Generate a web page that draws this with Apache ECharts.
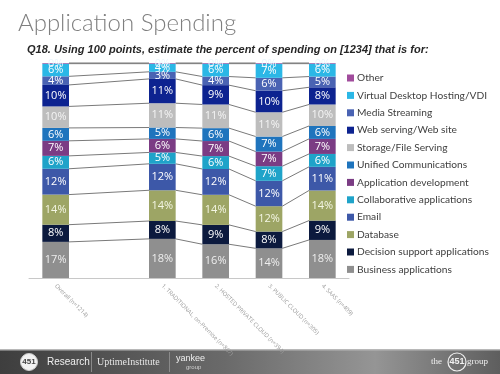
<!DOCTYPE html>
<html>
<head>
<meta charset="utf-8">
<script src="https://cdn.jsdelivr.net/npm/echarts@6/dist/echarts.min.js"></script>
<style>
html,body{margin:0;padding:0;background:#fff;}
#chart{width:500px;height:374px;}
</style>
</head>
<body>
<div id="chart"></div>
<script>
// Categories (a blank slot separates Overall from the segments)
const categories = ['Overall (n=1214)', '', '1. TRADITIONAL, on-Premise (n=867)', '2. HOSTED PRIVATE CLOUD (n=394)', '3. PUBLIC CLOUD (n=305)', '4. SAAS (n=409)'];
const barSlots = [0, 2, 3, 4, 5];

// Series values (per bar: Overall, 1, 2, 3, 4), bottom to top
const businessApps    = [16.8, 18.2, 15.7, 13.8, 17.7];
const decisionSupport = [8, 8.3, 9, 7.8, 9];
const database        = [14, 14.3, 14, 11.8, 14];
const email           = [12, 12.3, 12, 11.8, 11];
const collaborative   = [6, 5.3, 6, 6.8, 6];
const appDev          = [7, 6.3, 7, 6.8, 7];
const unifiedComms    = [6, 5.3, 6, 7, 6];
const storage         = [10, 11.3, 11, 11.3, 10];
const webServing      = [10, 11.3, 9, 10, 8];
const mediaStreaming  = [4, 3.3, 4, 6, 5];
const vdi             = [5.9, 3.8, 6, 6.6, 6];
const other           = [0.3, 0.3, 0.3, 0.3, 0.3];

const seriesDefs = [
  {name: 'Business applications', data: businessApps, color: '#8f8f8f', label: '#eeeeee'},
  {name: 'Decision support applications', data: decisionSupport, color: '#0c1a3e', label: '#ffffff'},
  {name: 'Database', data: database, color: '#9da565', label: '#f4f6e4'},
  {name: 'Email', data: email, color: '#3d58a8', label: '#ffffff'},
  {name: 'Collaborative applications', data: collaborative, color: '#1fa3c9', label: '#ffffff'},
  {name: 'Application development', data: appDev, color: '#7b3c84', label: '#ffffff'},
  {name: 'Unified Communications', data: unifiedComms, color: '#1f74bd', label: '#ffffff'},
  {name: 'Storage/File Serving', data: storage, color: '#bdbdbd', label: '#f4f4f4'},
  {name: 'Web serving/Web site', data: webServing, color: '#0d2390', label: '#ffffff'},
  {name: 'Media Streaming', data: mediaStreaming, color: '#4a63b3', label: '#ffffff'},
  {name: 'Virtual Desktop Hosting/VDI', data: vdi, color: '#2bb7e6', label: '#ffffff'},
  {name: 'Other', data: other, color: '#a14c9c', label: '#eaf6fc'}
];

function slotData(arr) {
  const out = categories.map(() => null);
  barSlots.forEach((s, i) => { out[s] = arr[i]; });
  return out;
}

const barSeries = seriesDefs.map((d, idx) => {
  const isTop = idx === seriesDefs.length - 1;
  return {
    name: d.name,
    type: 'bar',
    stack: 'total',
    barWidth: '50%',
    data: slotData(d.data),
    itemStyle: {color: d.color},
    labelLayout: {hideOverlap: false},
    label: {
      show: true,
      position: isTop ? 'top' : 'inside',
      distance: isTop ? -6 : 5,
      color: d.label,
      fontFamily: 'Open Sans',
      fontSize: 11,
      formatter: p => Math.round(p.value) + '%'
    }
  };
});

// Series lines connecting cumulative boundaries of adjacent bars
const lineData = [];
for (let k = 0; k < seriesDefs.length; k++) {
  for (let b = 0; b < barSlots.length - 1; b++) {
    let c1 = 0, c2 = 0;
    for (let j = 0; j <= k; j++) { c1 += seriesDefs[j].data[b]; c2 += seriesDefs[j].data[b + 1]; }
    lineData.push([barSlots[b], c1, barSlots[b + 1], c2]);
  }
}

const linesSeries = {
  type: 'custom',
  name: 'serieslines',
  silent: true,
  z: 1,
  encode: {x: [0, 2], y: [1, 3]},
  data: lineData,
  renderItem: function (params, api) {
    const p1 = api.coord([api.value(0), api.value(1)]);
    const p2 = api.coord([api.value(2), api.value(3)]);
    const half = api.size([1, 0])[0] * 0.25;
    return {
      type: 'line',
      shape: {x1: p1[0] + half, y1: p1[1], x2: p2[0] - half, y2: p2[1]},
      style: {stroke: '#7a7a7a', lineWidth: 1}
    };
  }
};

const chart = echarts.init(document.getElementById('chart'), null, {renderer: 'canvas'});
chart.setOption({
  animation: false,
  backgroundColor: '#ffffff',
  textStyle: {fontFamily: 'Open Sans'},
  title: [
    {text: 'Application Spending', left: 13, top: 6,
     textStyle: {fontFamily: 'Lato', fontWeight: 300, fontSize: 24, color: '#7f7f7f'}},
    {text: 'Q18. Using 100 points, estimate the percent of spending on [1234] that is for:', left: 22, top: 39,
     textStyle: {fontFamily: 'Liberation Sans', fontWeight: 'bold', fontStyle: 'italic', fontSize: 11, color: '#262626'}}
  ],
  legend: {
    orient: 'vertical',
    left: 342,
    top: 67,
    itemWidth: 7,
    itemHeight: 7,
    itemGap: 5.4,
    icon: 'rect',
    data: seriesDefs.map(d => d.name).reverse(),
    textStyle: {fontFamily: 'Lato', fontSize: 10.2, color: '#404040', lineHeight: 12, padding: [0, 0, 0, -2]}
  },
  grid: {left: 29, right: 151, top: 63, bottom: 96, containLabel: false},
  xAxis: {
    type: 'category',
    data: categories,
    axisLine: {show: true, lineStyle: {color: '#c8c8c8'}},
    axisTick: {show: false},
    axisLabel: {interval: 0, rotate: -45, fontSize: 5.8, color: '#9a9a9a', margin: 7}
  },
  yAxis: {
    type: 'value', min: 0, max: 100, show: false,
    splitLine: {show: false}
  },
  series: barSeries.concat([linesSeries]),
  graphic: [
    {type: 'rect', shape: {x: 0, y: 349, width: 500, height: 25}, silent: true,
     style: {fill: new echarts.graphic.LinearGradient(0, 0, 1, 0, [
       {offset: 0, color: '#3e3e3e'}, {offset: 0.45, color: '#6a6a6a'},
       {offset: 0.75, color: '#959595'}, {offset: 1, color: '#5e5e5e'}])}},
    {type: 'rect', shape: {x: 0, y: 349, width: 500, height: 1.5}, silent: true, style: {fill: '#b8b8b8'}},
    {type: 'circle', shape: {cx: 29, cy: 362, r: 8.5}, style: {fill: '#f2f2f2', stroke: '#cccccc'}},
    {type: 'text', x: 29, y: 362, style: {text: '451', fontSize: 8, fontWeight: 'bold', fill: '#444', align: 'center', verticalAlign: 'middle', fontFamily: 'Liberation Sans'}},
    {type: 'text', x: 47, y: 362, style: {text: 'Research', fontSize: 10, fill: '#f0f0f0', verticalAlign: 'middle', fontFamily: 'Liberation Sans'}},
    {type: 'rect', shape: {x: 91, y: 352, width: 1, height: 20}, style: {fill: '#8a8a8a'}},
    {type: 'text', x: 97, y: 362, style: {text: 'UptimeInstitute', fontSize: 10, fill: '#e6e6e6', verticalAlign: 'middle', fontFamily: 'Liberation Serif'}},
    {type: 'rect', shape: {x: 169, y: 352, width: 1, height: 20}, style: {fill: '#8a8a8a'}},
    {type: 'text', x: 176, y: 359, style: {text: 'yankee', fontSize: 9, fill: '#f0f0f0', verticalAlign: 'middle', fontFamily: 'Liberation Sans'}},
    {type: 'text', x: 186, y: 367, style: {text: 'group', fontSize: 6, fill: '#d0d0d0', verticalAlign: 'middle', fontFamily: 'Liberation Sans'}},
    {type: 'text', x: 431, y: 362, style: {text: 'the', fontSize: 9, fill: '#f0f0f0', verticalAlign: 'middle', fontFamily: 'Liberation Serif'}},
    {type: 'circle', shape: {cx: 457, cy: 362, r: 9}, style: {fill: 'none', stroke: '#f0f0f0', lineWidth: 1.2}},
    {type: 'text', x: 457, y: 362, style: {text: '451', fontSize: 9, fontWeight: 'bold', fill: '#f0f0f0', align: 'center', verticalAlign: 'middle', fontFamily: 'Liberation Sans'}},
    {type: 'text', x: 467, y: 362, style: {text: 'group', fontSize: 9, fill: '#f0f0f0', verticalAlign: 'middle', fontFamily: 'Liberation Serif'}}
  ]
});
</script>
</body>
</html>
